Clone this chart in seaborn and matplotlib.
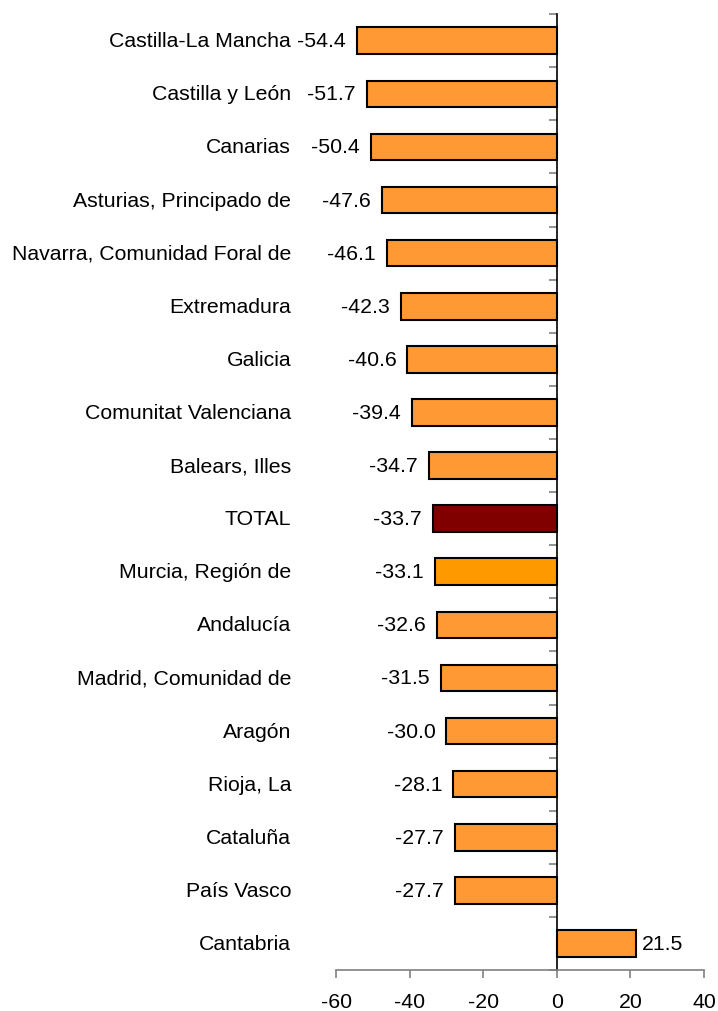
import numpy as np
import pandas as pd
import matplotlib as mpl
mpl.use("Agg")
import matplotlib.pyplot as plt
import seaborn as sns

# data (top to bottom)
regions = ["Castilla-La Mancha", "Castilla y León", "Canarias", "Asturias, Principado de",
           "Navarra, Comunidad Foral de", "Extremadura", "Galicia", "Comunitat Valenciana",
           "Balears, Illes", "TOTAL", "Murcia, Región de", "Andalucía", "Madrid, Comunidad de",
           "Aragón", "Rioja, La", "Cataluña", "País Vasco", "Cantabria"]
values = [-54.4, -51.7, -50.4, -47.6, -46.1, -42.3, -40.6, -39.4, -34.7, -33.7,
          -33.1, -32.6, -31.5, -30.0, -28.1, -27.7, -27.7, 21.5]
xticks = [-60, -40, -20, 0, 20, 40]

# bar colours: default orange, TOTAL dark red, Murcia a slightly different orange
bar_colors = ["#FF9933"] * len(regions)
bar_colors[regions.index("TOTAL")] = "#800000"
bar_colors[regions.index("Murcia, Región de")] = "#FF9900"

df = pd.DataFrame({"region": regions, "value": values})

sns.set_style("white")
plt.rcParams["font.family"] = ["Liberation Sans", "DejaVu Sans"]
plt.rcParams["text.color"] = "black"
plt.rcParams["xtick.color"] = "black"
plt.rcParams["ytick.color"] = "black"

fig = plt.figure(figsize=(7.18, 10.12), dpi=100)
ax = fig.add_axes([0.468, 0.0405, 0.5125, 0.9445])

sns.barplot(data=df, x="value", y="region", hue="region", palette=bar_colors,
            order=regions, hue_order=regions, legend=False, orient="h",
            width=0.5, saturation=1, edgecolor="black", linewidth=1.5, ax=ax)

ax.set_xlim(-60, 40)
ax.set_ylim(len(regions) - 0.5, -0.5)
ax.set_xlabel("")
ax.set_ylabel("")

# value labels
for cont, v in zip(ax.containers, values):
    ax.bar_label(cont, labels=[f"{v:.1f}"], padding=8 if v < 0 else 4,
                 fontsize=15.3, color="black")

# category labels sitting left of the plot area
trans = mpl.transforms.blended_transform_factory(ax.transAxes, ax.transData)
for i, r in enumerate(regions):
    ax.text(-0.122, i, r, transform=trans, ha="right", va="center",
            fontsize=15.3, color="black")

# axes: vertical axis crossing at zero, ticks at category boundaries
for s in ["top", "right"]:
    ax.spines[s].set_visible(False)
ax.spines["left"].set_position(("data", 0))
ax.spines["left"].set_color("black")
ax.spines["left"].set_linewidth(1.2)
ax.spines["bottom"].set_color("#808080")
ax.spines["bottom"].set_linewidth(1.2)

ax.set_yticks(np.arange(len(regions) + 1) - 0.5)
ax.set_yticklabels([])
ax.set_xticks(xticks)
ax.set_xticklabels([str(t) for t in xticks], fontsize=15.3, color="black")
ax.tick_params(axis="y", direction="out", length=6, width=1.2, color="#808080", left=True)
ax.tick_params(axis="x", direction="out", length=6, width=1.2, color="#808080", bottom=True, pad=10)
ax.grid(False)

fig.savefig("out.png", dpi=100)
